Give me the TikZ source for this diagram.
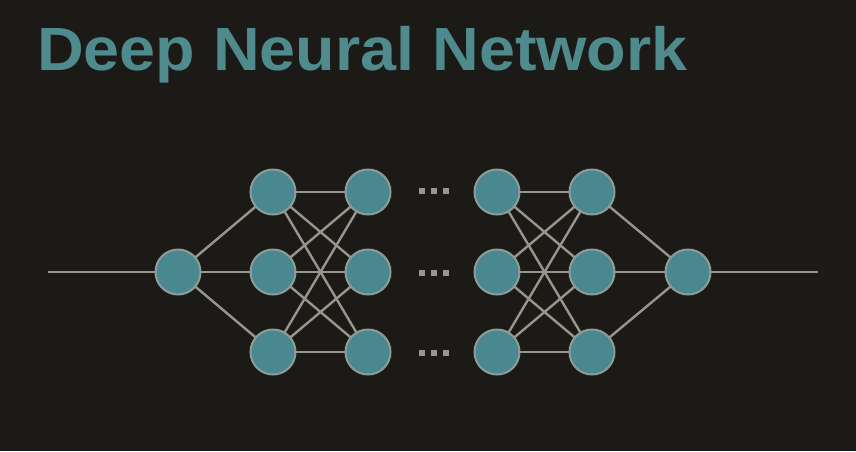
\documentclass[tikz,border=0pt]{standalone}
\usepackage{fontspec}
\setmainfont{Liberation Sans}
\definecolor{bg}{HTML}{1C1A16}
\definecolor{teal}{HTML}{4F8A8C}
\definecolor{nodefill}{HTML}{4A8890}
\definecolor{nodeedge}{HTML}{8E9C98}
\definecolor{wire}{HTML}{97958C}
\pgfdeclarelayer{backdrop}
\pgfdeclarelayer{wires}
\pgfsetlayers{backdrop,wires,main}
\begin{document}
\begin{tikzpicture}[x=1pt,y=-1pt,
  neuron/.style={circle,fill=nodefill,draw=nodeedge,line width=2pt,minimum size=45pt,inner sep=0pt},
  wirestyle/.style={draw=wire,line width=2.4pt},
  dotsq/.style={fill=wire,minimum size=6pt,inner sep=0pt,rectangle}]
\begin{pgfonlayer}{backdrop}
\fill[bg] (0,0) rectangle (856,451);
\end{pgfonlayer}
\useasboundingbox (0,0) rectangle (856,451);
\node[anchor=base west,inner sep=0pt,text=teal,xscale=1.06] (title) at (37,70)
  {\fontsize{61}{61}\selectfont\bfseries Deep Neural Network};
% nodes
\node[neuron] (in) at (178,272) {};
\foreach \n/\x in {a/273,b/368,c/497,d/592}{
  \node[neuron] (\n1) at (\x,192) {};
  \node[neuron] (\n2) at (\x,272) {};
  \node[neuron] (\n3) at (\x,352) {};
}
\node[neuron] (out) at (688,272) {};
\coordinate (lstart) at (48,272);
\coordinate (rend) at (818,272);
% wires
\begin{pgfonlayer}{wires}
\path[wirestyle] (lstart) -- (in.center) (out.center) -- (rend);
\foreach \i in {1,2,3}{
  \path[wirestyle] (in.center) -- (a\i.center);
  \path[wirestyle] (d\i.center) -- (out.center);
  \foreach \j in {1,2,3}{
    \path[wirestyle] (a\i.center) -- (b\j.center);
    \path[wirestyle] (c\i.center) -- (d\j.center);
  }
}
\end{pgfonlayer}
% dots
\foreach \y/\k in {191/1,273/2,353/3}{
  \node[dotsq] (dl\k) at (422,\y) {};
  \node[dotsq] (dm\k) at (434,\y) {};
  \node[dotsq] (dr\k) at (446,\y) {};
}
\end{tikzpicture}
\end{document}
